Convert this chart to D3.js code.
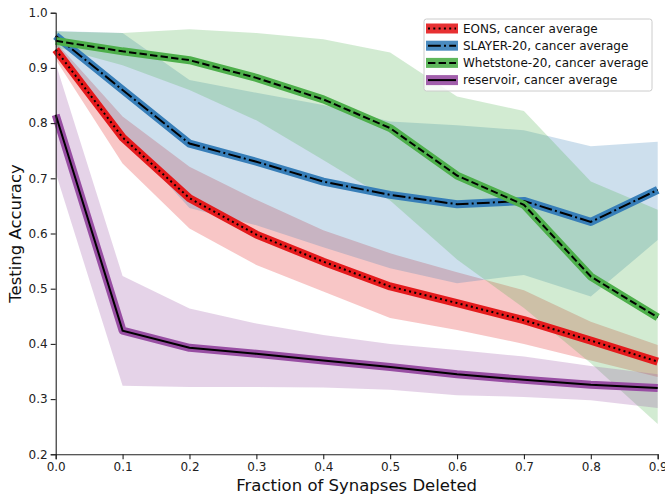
<!DOCTYPE html>
<html>
<head>
<meta charset="utf-8">
<script src="https://cdn.jsdelivr.net/npm/d3@7"></script>
<style>
  body { margin: 0; background: #fff; }
  svg { display: block; font-family: "DejaVu Sans", sans-serif; }
</style>
</head>
<body>
<svg id="chart" width="665" height="496"></svg>
<script>
// fraction of synapses deleted
const fractions = [0.0, 0.1, 0.2, 0.3, 0.4, 0.5, 0.6, 0.7, 0.8, 0.9];

const eonsMean  = [0.933, 0.774, 0.664, 0.598, 0.549, 0.504, 0.474, 0.443, 0.406, 0.368];
const eonsUpper = [0.947, 0.812, 0.721, 0.661, 0.606, 0.564, 0.530, 0.497, 0.440, 0.398];
const eonsLower = [0.915, 0.727, 0.609, 0.543, 0.495, 0.447, 0.425, 0.400, 0.370, 0.340];

const slayerMean  = [0.958, 0.860, 0.763, 0.730, 0.694, 0.670, 0.653, 0.659, 0.621, 0.679];
const slayerUpper = [0.967, 0.963, 0.878, 0.855, 0.833, 0.803, 0.796, 0.787, 0.758, 0.766];
const slayerLower = [0.940, 0.780, 0.646, 0.615, 0.575, 0.537, 0.510, 0.525, 0.486, 0.588];

const whetMean  = [0.949, 0.930, 0.914, 0.882, 0.843, 0.791, 0.705, 0.652, 0.522, 0.448];
const whetUpper = [0.966, 0.963, 0.970, 0.963, 0.952, 0.928, 0.848, 0.822, 0.694, 0.643];
const whetLower = [0.938, 0.905, 0.860, 0.805, 0.733, 0.660, 0.553, 0.465, 0.365, 0.255];

const resMean  = [0.815, 0.424, 0.393, 0.382, 0.370, 0.358, 0.345, 0.335, 0.326, 0.320];
const resUpper = [0.908, 0.523, 0.464, 0.437, 0.416, 0.400, 0.389, 0.377, 0.360, 0.345];
const resLower = [0.710, 0.324, 0.322, 0.322, 0.321, 0.317, 0.307, 0.304, 0.298, 0.284];

const seriesNames = [
  'EONS, cancer average',
  'SLAYER-20, cancer average',
  'Whetstone-20, cancer average',
  'reservoir, cancer average',
];
const xTicks = [0.0, 0.1, 0.2, 0.3, 0.4, 0.5, 0.6, 0.7, 0.8, 0.9];
const yTicks = [0.2, 0.3, 0.4, 0.5, 0.6, 0.7, 0.8, 0.9, 1.0];

const colors = ['#e41a1c', '#377eb8', '#4daf4a', '#984ea3'];
const dashes = ['2,3.3', '12.8,3.2,2,3.2', '7.4,3.2', null];

const series = [
  { mean: eonsMean, upper: eonsUpper, lower: eonsLower },
  { mean: slayerMean, upper: slayerUpper, lower: slayerLower },
  { mean: whetMean, upper: whetUpper, lower: whetLower },
  { mean: resMean, upper: resUpper, lower: resLower },
].map((s, i) => ({ ...s, name: seriesNames[i], color: colors[i], dash: dashes[i] }));

const margin = { top: 12.7, right: 7.3, bottom: 41.7, left: 55.7 };
const width = 665, height = 496;

const svg = d3.select('#chart');

const x = d3.scaleLinear().domain([0, 0.9]).range([margin.left, width - margin.right]);
const y = d3.scaleLinear().domain([0.2, 1.0]).range([height - margin.bottom, margin.top]);

// bands first, then lines on top
const area = d3.area()
  .x((d, i) => x(fractions[i]))
  .y0(d => y(d[0]))
  .y1(d => y(d[1]));

const line = d3.line()
  .x((d, i) => x(fractions[i]))
  .y(d => y(d));

series.forEach(s => {
  svg.append('path')
    .attr('d', area(s.lower.map((v, i) => [v, s.upper[i]])))
    .attr('fill', s.color)
    .attr('fill-opacity', 0.25);
});

series.forEach(s => {
  svg.append('path')
    .attr('d', line(s.mean))
    .attr('fill', 'none')
    .attr('stroke', s.color)
    .attr('stroke-width', 8)
    .attr('stroke-linejoin', 'round');
  svg.append('path')
    .attr('d', line(s.mean))
    .attr('fill', 'none')
    .attr('stroke', '#000')
    .attr('stroke-width', 2)
    .attr('stroke-dasharray', s.dash);
});

// axes (only left and bottom spines)
const xAxis = svg.append('g')
  .attr('transform', `translate(0,${height - margin.bottom})`)
  .call(d3.axisBottom(x).tickValues(xTicks).tickFormat(d3.format('.1f')).tickSizeOuter(0).tickSize(5));
const yAxis = svg.append('g')
  .attr('transform', `translate(${margin.left},0)`)
  .call(d3.axisLeft(y).tickValues(yTicks).tickFormat(d3.format('.1f')).tickSizeOuter(0).tickSize(5));

[xAxis, yAxis].forEach(g => {
  g.selectAll('text')
    .attr('font-family', '"DejaVu Sans", sans-serif')
    .attr('font-size', 12)
    .attr('fill', '#222');
  g.select('.domain').attr('stroke', '#222').attr('stroke-width', 1.1);
  g.selectAll('.tick line').attr('stroke', '#222').attr('stroke-width', 1.1);
});
xAxis.selectAll('text').attr('dy', '0.71em').attr('y', 8);
yAxis.selectAll('text').attr('x', -8);

svg.append('text')
  .attr('x', (margin.left + width - margin.right) / 2)
  .attr('y', 491)
  .attr('text-anchor', 'middle')
  .attr('font-size', 16.5)
  .attr('fill', '#111')
  .text('Fraction of Synapses Deleted');

svg.append('text')
  .attr('transform', `translate(21,${(margin.top + height - margin.bottom) / 2}) rotate(-90)`)
  .attr('text-anchor', 'middle')
  .attr('font-size', 16.5)
  .attr('fill', '#111')
  .text('Testing Accuracy');

// legend
const legend = svg.append('g').attr('transform', 'translate(424,19)');
legend.append('rect')
  .attr('width', 228)
  .attr('height', 72)
  .attr('rx', 2.5)
  .attr('fill', '#fff')
  .attr('fill-opacity', 0.8)
  .attr('stroke', '#ccc');

series.forEach((s, i) => {
  const row = legend.append('g').attr('transform', `translate(0,${9.5 + i * 17.2})`);
  row.append('rect')
    .attr('x', 2)
    .attr('y', -5)
    .attr('width', 32)
    .attr('height', 10)
    .attr('fill', s.color)
    .attr('fill-opacity', 0.9);
  row.append('line')
    .attr('x1', 4).attr('x2', 32)
    .attr('stroke', '#000')
    .attr('stroke-width', 2)
    .attr('stroke-dasharray', s.dash);
  row.append('text')
    .attr('x', 39)
    .attr('y', 4.3)
    .attr('font-size', 12)
    .attr('fill', '#111')
    .text(s.name);
});
</script>
</body>
</html>
